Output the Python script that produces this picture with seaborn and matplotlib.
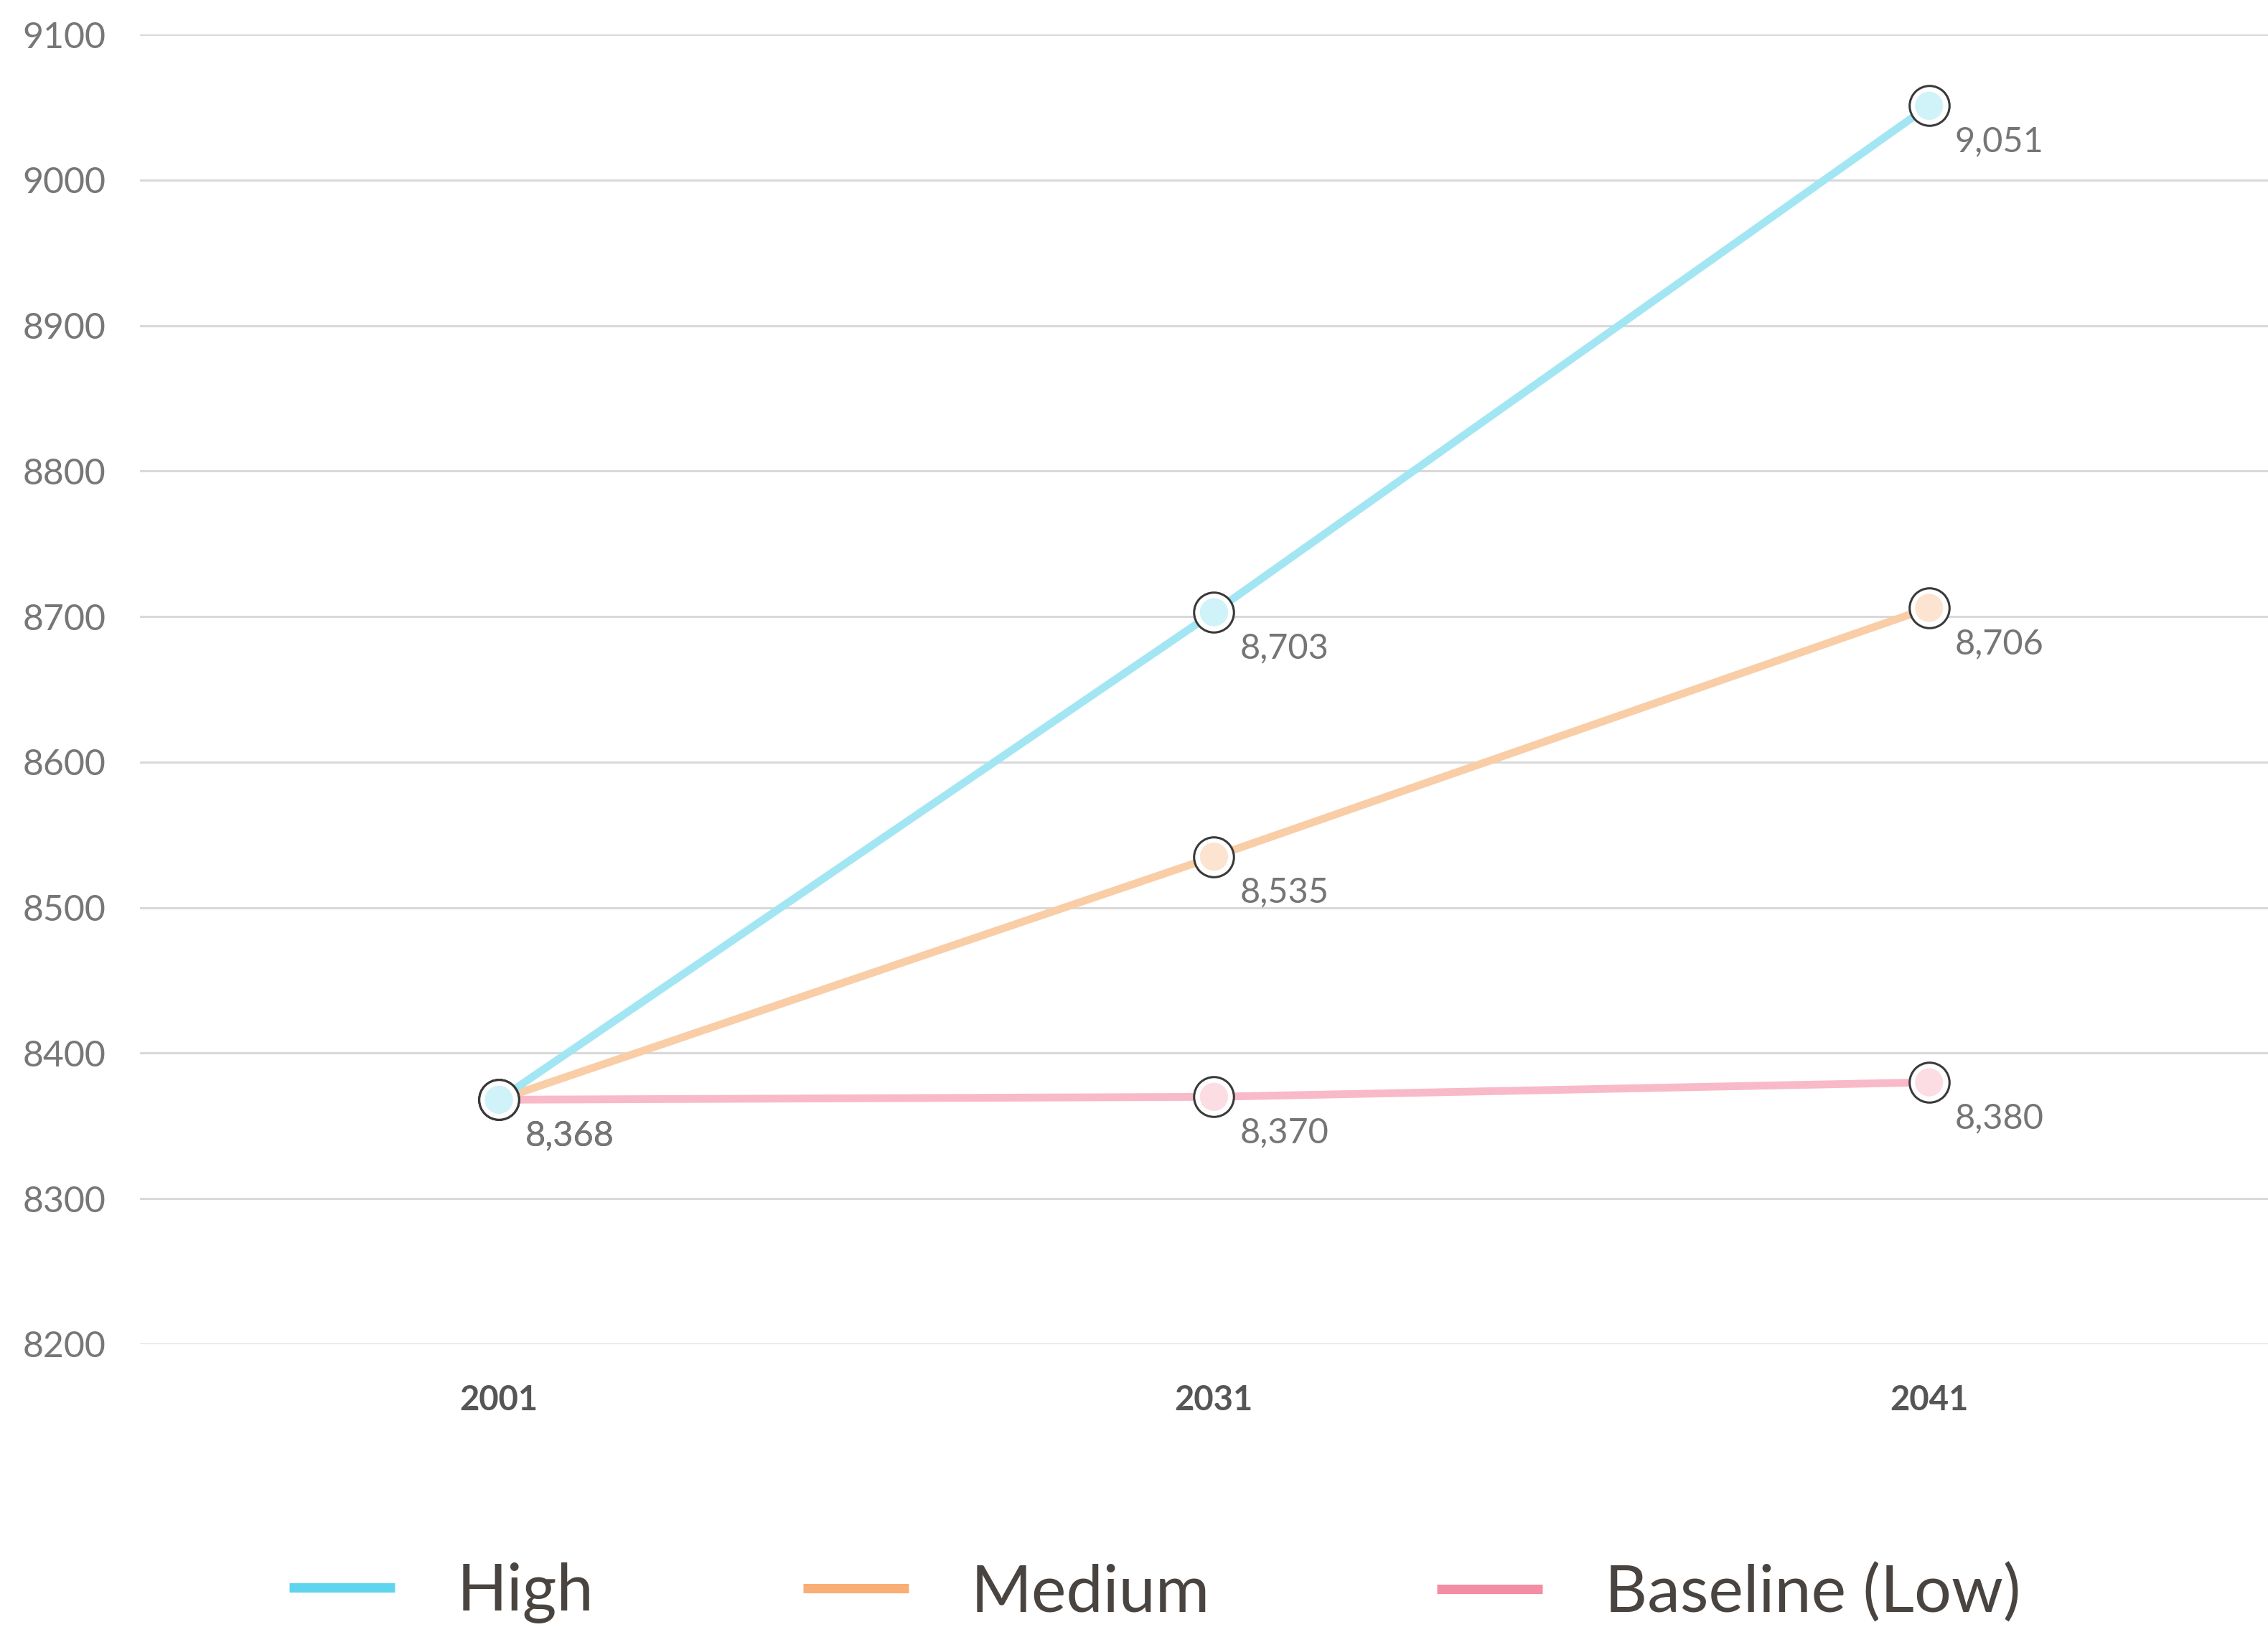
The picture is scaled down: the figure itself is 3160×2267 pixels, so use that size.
import matplotlib
matplotlib.use("Agg")
import matplotlib.pyplot as plt
from matplotlib.lines import Line2D
import seaborn as sns
import pandas as pd

# Population projections by scenario
years = ["2001", "2031", "2041"]
high = [8368, 8703, 9051]
medium = [8368, 8535, 8706]
baseline = [8368, 8370, 8380]
scenarios = ["High", "Medium", "Baseline (Low)"]
y_ticks = [8200, 8300, 8400, 8500, 8600, 8700, 8800, 8900, 9000, 9100]

line_colors = {"High": "#A3E6F3", "Medium": "#F9CDA6", "Baseline (Low)": "#F8BAC8"}
fill_colors = {"High": "#D0F2F9", "Medium": "#FCE4D0", "Baseline (Low)": "#FBDDE3"}
legend_colors = {"High": "#5DD5EE", "Medium": "#F8AE74", "Baseline (Low)": "#F48CA3"}

frames = []
for name, vals in zip(scenarios, [high, medium, baseline]):
    frames.append(pd.DataFrame({"year": years, "value": vals, "scenario": name}))
df = pd.concat(frames, ignore_index=True)

sns.set_theme(style="white")
plt.rcParams["font.family"] = ["Lato", "DejaVu Sans"]

W, H = 3160, 2267
fig = plt.figure(figsize=(W / 200, H / 200), dpi=200)
ax = fig.add_axes([0.0617, 0.1738, 0.9383, 0.805])

# draw lowest scenario first so the high one sits on top
draw_order = ["Baseline (Low)", "Medium", "High"]
for z, name in enumerate(draw_order):
    sub = df[df["scenario"] == name]
    sns.lineplot(data=sub, x="year", y="value", color=line_colors[name],
                 linewidth=3.9, sort=False, ax=ax, zorder=3 + z, legend=False)
for z, name in enumerate(draw_order):
    sub = df[df["scenario"] == name]
    sns.scatterplot(data=sub, x="year", y="value", s=400, color="white",
                    edgecolor="#3a3a3a", linewidth=1.1, ax=ax, zorder=10 + 2 * z,
                    legend=False)
    sns.scatterplot(data=sub, x="year", y="value", s=200, color=fill_colors[name],
                    edgecolor="none", ax=ax, zorder=11 + 2 * z, legend=False)
    for xi, (yr, v) in enumerate(zip(sub["year"], sub["value"])):
        ax.annotate(f"{v:,}", (xi, v), xytext=(13, -18), textcoords="offset points",
                    ha="left", va="center", fontsize=17.5, color="#757575",
                    zorder=20)

ax.set_ylim(8200, 9100)
ax.set_xlim(-0.502, 2.474)
ax.set_yticks(y_ticks)
ax.set_yticklabels([str(t) for t in y_ticks], fontsize=18, color="#777777")
ax.tick_params(axis="y", length=0, pad=17)
ax.tick_params(axis="x", length=0, pad=20)
for lab in ax.get_xticklabels():
    lab.set_fontsize(17)
    lab.set_fontweight("bold")
    lab.set_color("#555555")
ax.set_xlabel("")
ax.set_ylabel("")
ax.grid(axis="y", color="#d9d9d9", linewidth=1.1)
ax.grid(axis="x", visible=False)
for sp in ax.spines.values():
    sp.set_visible(False)

# legend entries along the bottom, one per scenario
entry_left = {"High": 403, "Medium": 1119, "Baseline (Low)": 2002}
for name in scenarios:
    h = Line2D([0], [0], color=legend_colors[name], linewidth=4.7,
               solid_capstyle="butt")
    fig.legend([h], [name], loc="center left",
               bbox_to_anchor=(entry_left[name] / W, 1 - 2220 / H),
               frameon=False, handlelength=1.6, handletextpad=0.95,
               borderpad=0, borderaxespad=0, labelcolor="#4a4440",
               prop={"size": 33})

fig.savefig("out.png", dpi=200, facecolor="white")
